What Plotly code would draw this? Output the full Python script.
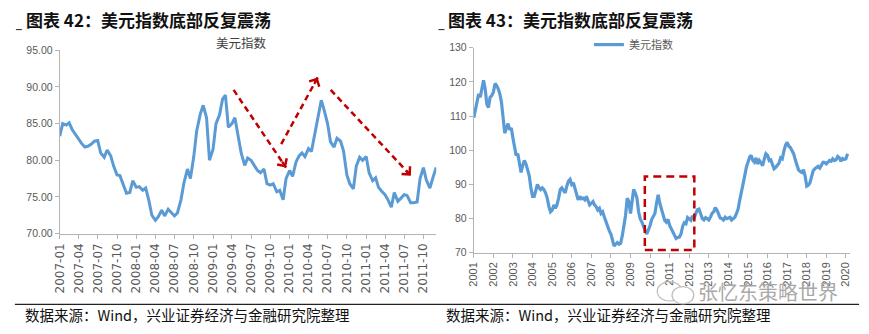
import math
import pandas as pd
import plotly.graph_objects as go

W, H = 869, 334

# US Dollar Index, semi-monthly readings, Jan 2007 - Dec 2011
dxy_2007_2011 = [
    83.3, 85.0, 84.8, 85.1, 84.2, 83.6, 83.0, 82.3, 81.8, 81.9, 82.2, 82.6,
    82.7, 81.0, 80.4, 81.4, 80.6, 79.2, 78.0, 77.9, 76.6, 75.5, 75.6, 77.2,
    76.3, 76.4, 75.9, 76.2, 74.5, 72.5, 71.8, 72.3, 73.2, 72.4, 73.3, 72.9,
    72.4, 72.8, 74.6, 76.9, 78.8, 77.5, 80.5, 84.0, 86.3, 87.5, 85.8, 80.0,
    81.5, 85.0, 86.2, 88.3, 88.9, 84.5, 85.0, 85.8, 83.5, 81.0, 79.3, 80.3,
    80.0, 79.4, 78.6, 78.3, 78.8, 76.8, 76.6, 76.8, 75.7, 75.9, 74.6, 77.5,
    78.6, 77.8, 79.8, 80.6, 81.0, 80.5, 81.6, 81.2, 83.6, 85.8, 88.2, 86.8,
    85.0, 82.5, 81.8, 83.0, 82.6, 81.3, 78.0, 76.8, 76.1, 79.2, 80.4, 80.0,
    80.5, 78.3, 77.2, 77.6, 76.3, 75.8, 75.3, 74.6, 73.6, 75.6, 74.4, 74.8,
    75.3, 75.2, 74.2, 74.2, 74.3, 77.5, 79.0, 77.3, 76.2, 77.6, 79.0,
]

# US Dollar Index, monthly readings, Jan 2001 - Feb 2020
dxy_2001_2020 = [
    109.5, 112.0, 114.5, 116.5, 115.5, 118.5, 120.5, 118.0, 113.5, 112.5, 115.5, 116.0,
    117.0, 119.5, 119.0, 118.0, 116.5, 114.0, 108.5, 105.0, 106.5, 107.8, 106.0, 106.5,
    103.5, 100.5, 98.5, 99.0, 96.5, 93.5, 95.5, 97.0, 96.0, 94.5, 92.5, 89.0,
    86.5, 86.5, 88.0, 90.0, 89.0, 88.5, 89.0, 88.5, 87.5, 86.0, 83.5, 82.0,
    82.5, 84.0, 83.0, 84.0, 86.0, 88.5, 89.0, 88.0, 87.5, 89.5, 91.0, 91.5,
    90.0, 90.5, 89.0, 87.5, 85.5, 86.5, 85.8, 86.0, 85.5, 86.5, 85.5, 84.0,
    84.5, 85.0, 84.0, 83.5, 82.5, 83.0, 81.5, 82.0, 80.5, 79.0, 77.5, 76.5,
    75.5, 73.5, 72.0, 72.5, 73.0, 72.5, 72.8, 75.0, 77.5, 81.0, 86.0, 85.0,
    81.5, 86.0, 88.5, 87.5, 86.0, 82.0, 80.0, 79.0, 77.5, 76.5, 75.5, 76.5,
    78.0, 79.8, 80.5, 81.5, 84.5, 87.0, 84.5, 82.5, 81.0, 79.5, 79.0, 79.8,
    78.0, 77.0, 76.3, 75.3, 74.2, 74.5, 74.6, 75.5, 77.8, 78.8, 78.5, 80.3,
    80.0, 79.5, 80.8, 80.0, 81.5, 82.6, 82.8, 81.5, 80.0, 79.6, 80.3, 80.0,
    79.6, 80.5, 81.5, 82.0, 83.2, 82.5, 81.2, 80.2, 80.0, 79.6, 80.4, 80.0,
    80.2, 80.4, 79.6, 80.0, 80.4, 81.5, 82.8, 85.5, 87.6, 89.8, 92.5, 95.0,
    96.5, 98.0, 98.5, 97.0, 96.5, 97.8, 96.0, 97.0, 96.3, 95.5, 97.5, 99.0,
    98.5, 97.0, 97.2, 95.5, 94.6, 95.0, 95.8, 96.2, 97.8, 97.5, 99.8, 101.5,
    102.3, 101.2, 100.8, 99.8, 99.0, 97.2, 95.8, 94.2, 93.8, 93.5, 94.3, 92.5,
    89.5, 89.8, 90.5, 92.8, 94.0, 94.6, 95.0, 95.3, 94.8, 95.8, 96.5, 96.4,
    96.0, 96.5, 97.0, 96.8, 97.5, 97.0, 97.2, 98.2, 97.8, 96.8, 97.6, 97.3,
    97.5, 99.0,
]

left_dates = pd.date_range("2007-01-01", periods=len(dxy_2007_2011), freq="SMS")
right_dates = pd.date_range("2001-01-01", periods=len(dxy_2001_2020), freq="MS")

left_ticks = pd.date_range("2007-01-01", "2011-10-01", freq="QS")
left_ticktext = [d.strftime("%Y-%m") for d in left_ticks]
right_ticks = pd.date_range("2001-01-01", "2020-01-01", freq="YS")
right_ticktext = [d.strftime("%Y") for d in right_ticks]

series_name = "美元指数"
title_left = "图表 42：美元指数底部反复震荡"
title_right = "图表 43：美元指数底部反复震荡"
source_note = "数据来源：Wind，兴业证券经济与金融研究院整理"
watermark = "张忆东策略世界"

# Trend arrows on the 2007-2011 panel: (start date, start value, end date, end value)
trend_arrows = [
    ("2009-04-09", 89.6, "2009-12-15", 79.0),
    ("2009-11-22", 82.2, "2010-05-15", 91.3),
    ("2010-07-16", 89.6, "2011-08-02", 77.9),
]
# Highlighted range on the 2001-2020 panel
box_x = ("2009-09-25", "2012-04-05")
box_y = (70.8, 92.3)

BLUE = "#5B9BD5"
RED = "#C00000"
AXIS = "#B4B4B4"
TICK_TXT = "#595959"
CJK = "Noto Sans CJK SC"

# left panel geometry (pixels)
L_X0, L_X1 = 53.3, 433.7
L_Y0, L_Y1 = 236, 46
L_XRANGE = ("2007-01-01", "2011-12-01")
L_YRANGE = (70, 95)


def px(x):
    return x / W


def py(y):
    return 1 - y / H


def left_to_pixels(date, value):
    t0, t1 = pd.Timestamp(L_XRANGE[0]), pd.Timestamp(L_XRANGE[1])
    fx = (pd.Timestamp(date) - t0) / (t1 - t0)
    fy = (value - L_YRANGE[0]) / (L_YRANGE[1] - L_YRANGE[0])
    return L_X0 + fx * (L_X1 - L_X0), L_Y0 + fy * (L_Y1 - L_Y0)


fig = go.Figure()
fig.add_trace(go.Scatter(
    x=left_dates, y=dxy_2007_2011, mode="lines", name=series_name,
    line=dict(color=BLUE, width=3), showlegend=False, xaxis="x", yaxis="y",
))
fig.add_trace(go.Scatter(
    x=right_dates, y=dxy_2001_2020, mode="lines", name=series_name,
    line=dict(color=BLUE, width=3.2), showlegend=True, xaxis="x2", yaxis="y2",
))

common_axis = dict(
    showline=True, linecolor=AXIS, linewidth=1, showgrid=False, zeroline=False,
    ticks="outside", ticklen=4, tickcolor=AXIS, tickwidth=1,
)

fig.update_layout(
    width=W, height=H,
    margin=dict(l=0, r=0, t=0, b=0),
    paper_bgcolor="white", plot_bgcolor="white",
    xaxis=dict(
        domain=[px(L_X0), px(L_X1)], anchor="y", type="date",
        range=list(L_XRANGE),
        tickmode="array", tickvals=list(left_ticks), ticktext=left_ticktext,
        tickangle=-90, tickfont=dict(family="DejaVu Sans", size=12, color=TICK_TXT),
        **common_axis,
    ),
    yaxis=dict(
        domain=[py(L_Y0), py(L_Y1)], anchor="x", range=list(L_YRANGE), dtick=5,
        tickformat=".2f", tickfont=dict(family="Liberation Sans", size=10.5, color=TICK_TXT),
        **common_axis,
    ),
    xaxis2=dict(
        domain=[px(471.7), px(851.7)], anchor="y2", type="date",
        range=["2001-01-01", "2020-03-15"],
        tickmode="array", tickvals=list(right_ticks), ticktext=right_ticktext,
        tickangle=-90, tickfont=dict(family="Liberation Sans", size=11, color=TICK_TXT),
        **common_axis,
    ),
    yaxis2=dict(
        domain=[py(256), py(43.3)], anchor="x2", range=[70, 130], dtick=10,
        tickfont=dict(family="Liberation Sans", size=10.5, color=TICK_TXT),
        **common_axis,
    ),
    legend=dict(
        x=px(588), y=py(25), xanchor="left", yanchor="top",
        bgcolor="rgba(0,0,0,0)", font=dict(family=CJK, size=11, color=TICK_TXT),
        itemwidth=30,
    ),
    showlegend=True,
)

annotations = [
    dict(text=f"<b>{title_left}</b>", x=px(17), y=py(14.5), xref="paper", yref="paper",
         xanchor="left", yanchor="middle", showarrow=False,
         font=dict(family=CJK, size=17, color="#111111")),
    dict(text=f"<b>{title_right}</b>", x=px(444), y=py(14.5), xref="paper", yref="paper",
         xanchor="left", yanchor="middle", showarrow=False,
         font=dict(family=CJK, size=17, color="#111111")),
    dict(text=series_name, x=px(237), y=py(37.5), xref="paper", yref="paper",
         xanchor="center", yanchor="middle", showarrow=False,
         font=dict(family=CJK, size=12.5, color="#404040")),
    dict(text=source_note, x=px(16), y=py(320), xref="paper", yref="paper",
         xanchor="left", yanchor="middle", showarrow=False,
         font=dict(family=CJK, size=14.5, color="#111111")),
    dict(text=source_note, x=px(442), y=py(320), xref="paper", yref="paper",
         xanchor="left", yanchor="middle", showarrow=False,
         font=dict(family=CJK, size=14.5, color="#111111")),
    dict(text=watermark, x=px(696), y=py(296), xref="paper", yref="paper",
         xanchor="left", yanchor="middle", showarrow=False,
         font=dict(family=CJK, size=20, color="#A9A9A9")),
]

shapes = [
    # bottom rule above the source notes
    dict(type="line", xref="paper", yref="paper", x0=px(8), x1=px(861), y0=py(309.5), y1=py(309.5),
         line=dict(color="#222222", width=1.3)),
    # short table marks beside the titles
    dict(type="line", xref="paper", yref="paper", x0=px(9), x1=px(15), y0=py(24.5), y1=py(24.5),
         line=dict(color="#222222", width=1)),
    dict(type="line", xref="paper", yref="paper", x0=px(436), x1=px(442), y0=py(24.5), y1=py(24.5),
         line=dict(color="#222222", width=1)),
    # highlighted 2010-2012 bottoming range
    dict(type="rect", xref="x2", yref="y2", x0=box_x[0], x1=box_x[1], y0=box_y[0], y1=box_y[1],
         line=dict(color=RED, width=2.5, dash="8px,5px"), fillcolor="rgba(0,0,0,0)"),
    # watermark logo
    dict(type="circle", xref="paper", yref="paper", x0=px(657), x1=px(682), y0=py(306), y1=py(286),
         line=dict(color="#BDBDBD", width=1.2)),
    dict(type="circle", xref="paper", yref="paper", x0=px(672), x1=px(694), y0=py(309), y1=py(291),
         line=dict(color="#BDBDBD", width=1.2), fillcolor="white"),
]

HEAD_LEN = 9  # pixels of solid shaft under each arrowhead
for x0, y0, x1, y1 in trend_arrows:
    shapes.append(dict(type="line", xref="x", yref="y", x0=x0, y0=y0, x1=x1, y1=y1,
                       line=dict(color=RED, width=2.5, dash="6px,4px")))
    sx, sy = left_to_pixels(x0, y0)
    ex, ey = left_to_pixels(x1, y1)
    length = math.hypot(ex - sx, ey - sy)
    annotations.append(dict(
        x=x1, y=y1, xref="x", yref="y",
        ax=-(ex - sx) / length * HEAD_LEN, ay=-(ey - sy) / length * HEAD_LEN,
        text="", showarrow=True, arrowhead=4, arrowsize=1.0, arrowwidth=2.2,
        arrowcolor=RED, standoff=0,
    ))

fig.update_layout(annotations=annotations, shapes=shapes)

fig.write_html("out.html")
